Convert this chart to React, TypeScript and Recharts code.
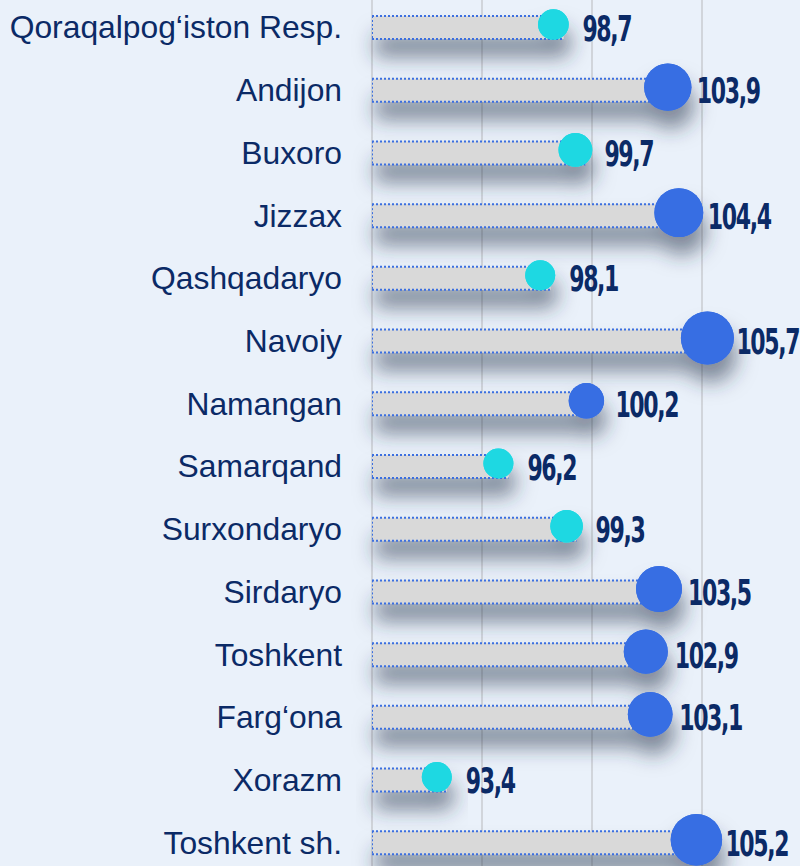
import { BarChart, Bar, XAxis, YAxis, CartesianGrid } from 'recharts';

const regions = [
  'Qoraqalpog‘iston Resp.',
  'Andijon',
  'Buxoro',
  'Jizzax',
  'Qashqadaryo',
  'Navoiy',
  'Namangan',
  'Samarqand',
  'Surxondaryo',
  'Sirdaryo',
  'Toshkent',
  'Farg‘ona',
  'Xorazm',
  'Toshkent sh.',
];
const values = [98.7, 103.9, 99.7, 104.4, 98.1, 105.7, 100.2, 96.2, 99.3, 103.5, 102.9, 103.1, 93.4, 105.2];
const xTicks = [90, 95, 100, 105, 110];

const data = regions.map((name, i) => ({ name, value: values[i] }));

const NAVY = '#0b2a66';
const CYAN = '#1ed8e2';
const BLUE = '#376ee3';
const DOT = '#3b6fe0';

// dot grows with the value, kept between the small and the big marker sizes
const radiusFor = (v: number) => Math.max(15, Math.min(26.5, 15 + (v - 98.5) * 1.6));

function LollipopBar(props: any) {
  const { x, y, width, height, payload, index } = props;
  const v: number = payload.value;
  const cy = y + height / 2;
  const end = x + width;
  const r = radiusFor(v);
  const fid = `shadow-${index}`;
  const fill = v < 100 ? CYAN : BLUE;
  return (
    <g>
      <defs>
        <filter id={fid} x="-20%" y="-100%" width="140%" height="500%">
          <feDropShadow dx={3} dy={18} stdDeviation={10} floodColor="#2a364c" floodOpacity={0.55} />
        </filter>
      </defs>
      <g filter={`url(#${fid})`}>
        <rect x={x} y={y} width={width} height={height} fill="#d9d9d9" />
        <circle cx={end - 10} cy={cy - 3} r={r} fill={fill} />
      </g>
      <line x1={x} y1={y} x2={end} y2={y} stroke={DOT} strokeWidth={2} strokeDasharray="2 2" />
      <line x1={x} y1={y + height} x2={end} y2={y + height} stroke={DOT} strokeWidth={2} strokeDasharray="2 2" />
      <line x1={x + 0.5} y1={y} x2={x + 0.5} y2={y + height} stroke={DOT} strokeWidth={1} strokeDasharray="2 2" />
      <circle cx={end - 10} cy={cy - 3} r={r} fill={fill} />
      {/* condensed look: the narrow face is not installed, so squeeze DejaVu horizontally */}
      <text
        transform={`translate(${end + 19},${cy + 13}) scale(0.68,1)`}
        fill={NAVY}
        fontSize={36}
        fontWeight={700}
        letterSpacing={-2}
        fontFamily="'DejaVu Sans Condensed', 'DejaVu Sans', sans-serif"
      >
        {v.toFixed(1).replace('.', ',')}
      </text>
    </g>
  );
}

function RegionTick(props: any) {
  const { x, y, payload } = props;
  return (
    <text
      x={x}
      y={y}
      dy={11}
      textAnchor="end"
      fill={NAVY}
      fontSize={31.8}
      fontFamily="'Liberation Sans', Arial, sans-serif"
    >
      {payload.value}
    </text>
  );
}

export default function App() {
  return (
    <div
      style={{
        position: 'absolute',
        left: 0,
        top: 0,
        width: 800,
        height: 866,
        overflow: 'hidden',
        background: '#eaf1fa',
      }}
    >
      <div style={{ position: 'absolute', left: 0, top: -4 }}>
        <BarChart
          width={812}
          height={878}
          data={data}
          layout="vertical"
          margin={{ top: 0, right: 0, bottom: 0, left: 0 }}
          barSize={23}
        >
          <CartesianGrid horizontal={false} stroke="#c8cbd0" strokeWidth={1.5} />
          <XAxis type="number" domain={[90, 110]} ticks={xTicks} hide />
          <YAxis
            type="category"
            dataKey="name"
            width={372}
            axisLine={false}
            tickLine={false}
            tickSize={0}
            tickMargin={30}
            tick={<RegionTick />}
            interval={0}
          />
          <Bar dataKey="value" shape={<LollipopBar />} isAnimationActive={false} />
        </BarChart>
      </div>
    </div>
  );
}
